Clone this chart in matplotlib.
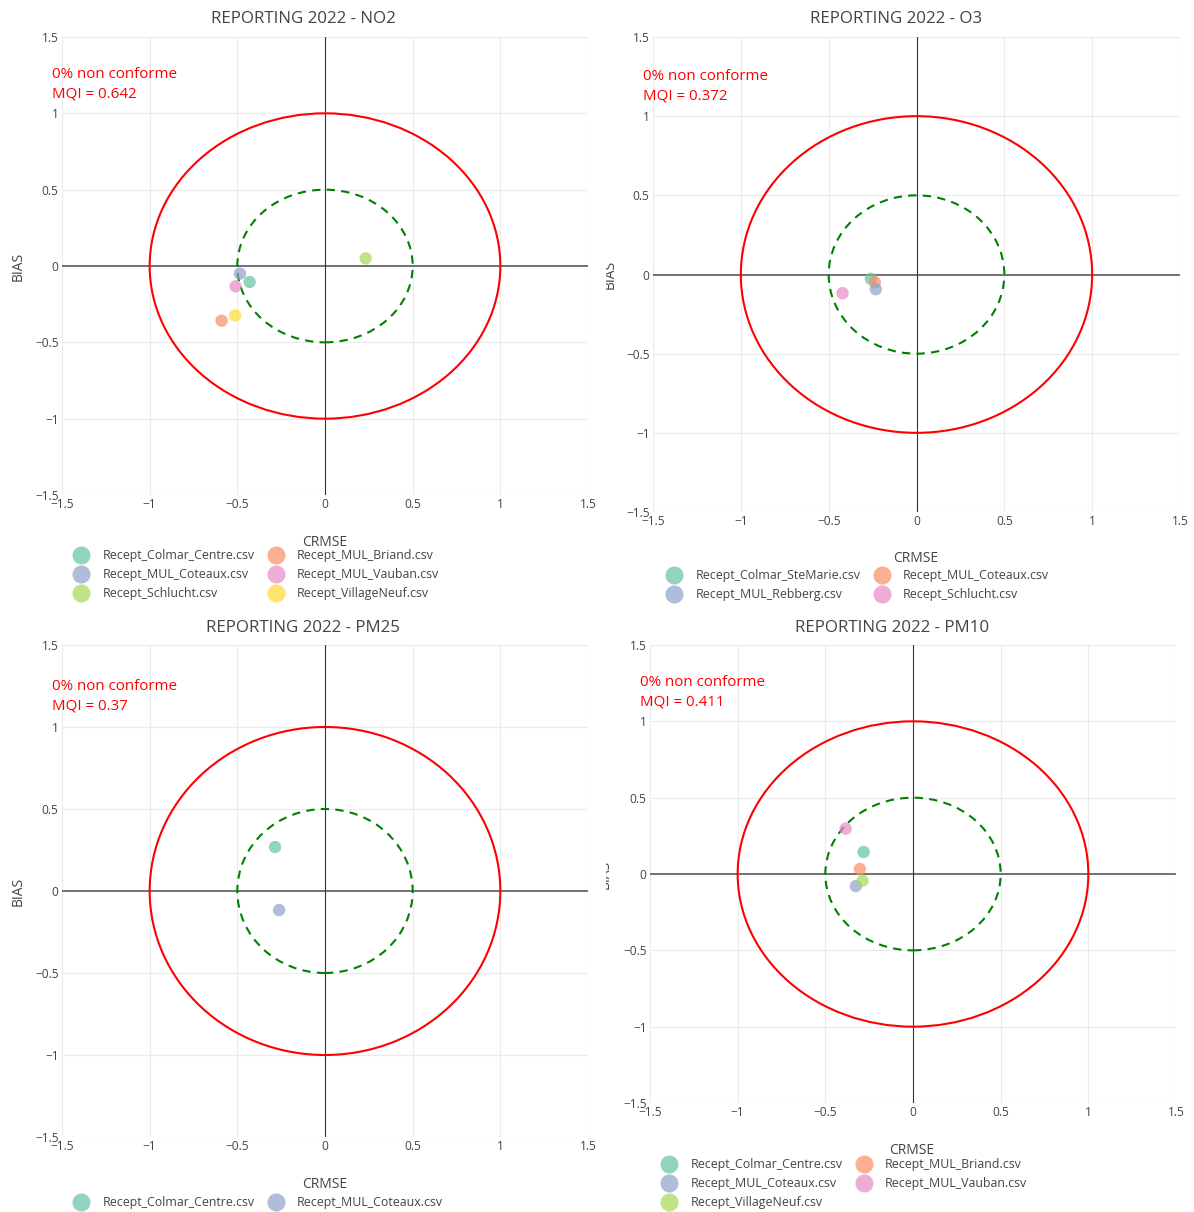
import matplotlib
matplotlib.use("Agg")
import matplotlib.pyplot as plt
from matplotlib.patches import Circle
from matplotlib.lines import Line2D
from matplotlib.transforms import Bbox, TransformedBbox

plt.rcParams["font.family"] = ["Open Sans", "DejaVu Sans"]

W, H = 1194, 1212

# Set2 palette colours
teal, orange, blue, pink, green, yellow = ("#66c2a5", "#fc8d62", "#8da0cb",
                                           "#e78ac3", "#a6d854", "#ffd92f")

# --- data ---
no2_sites = ["Recept_Colmar_Centre.csv", "Recept_MUL_Briand.csv", "Recept_MUL_Coteaux.csv",
             "Recept_MUL_Vauban.csv", "Recept_Schlucht.csv", "Recept_VillageNeuf.csv"]
no2_crmse = [-0.43, -0.59, -0.485, -0.51, 0.232, -0.513]
no2_bias = [-0.105, -0.358, -0.05, -0.133, 0.05, -0.324]
no2_colors = [teal, orange, blue, pink, green, yellow]
no2_mqi = "0.642"

o3_sites = ["Recept_Colmar_SteMarie.csv", "Recept_MUL_Coteaux.csv",
            "Recept_MUL_Rebberg.csv", "Recept_Schlucht.csv"]
o3_crmse = [-0.26, -0.237, -0.232, -0.421]
o3_bias = [-0.027, -0.049, -0.093, -0.118]
o3_colors = [teal, orange, blue, pink]
o3_mqi = "0.372"

pm25_sites = ["Recept_Colmar_Centre.csv", "Recept_MUL_Coteaux.csv"]
pm25_crmse = [-0.285, -0.262]
pm25_bias = [0.268, -0.116]
pm25_colors = [teal, blue]
pm25_mqi = "0.37"

pm10_sites = ["Recept_Colmar_Centre.csv", "Recept_MUL_Briand.csv", "Recept_MUL_Coteaux.csv",
              "Recept_MUL_Vauban.csv", "Recept_VillageNeuf.csv"]
pm10_crmse = [-0.282, -0.303, -0.326, -0.384, -0.288]
pm10_bias = [0.144, 0.033, -0.079, 0.297, -0.044]
pm10_colors = [teal, orange, blue, pink, green]
pm10_mqi = "0.411"

ticks = [-1.5, -1, -0.5, 0, 0.5, 1, 1.5]
tick_labels = ["\u22121.5", "\u22121", "\u22120.5", "0", "0.5", "1", "1.5"]

# panel layout in pixels: plot box, title centre, annotation, axis titles, legend
panels = [
    dict(name="NO2", sites=no2_sites, x=no2_crmse, y=no2_bias, c=no2_colors, mqi=no2_mqi,
         box=(62, 37, 588, 495), title=(303, 19), note=(52, 74),
         bias=(18, 266), crmse=(325, 542), leg=(72, 549)),
    dict(name="O3", sites=o3_sites, x=o3_crmse, y=o3_bias, c=o3_colors, mqi=o3_mqi,
         box=(653, 37, 1180, 512), title=(896, 19), note=(643, 76),
         bias=(610, 274), crmse=(916, 559), leg=(665, 569)),
    dict(name="PM25", sites=pm25_sites, x=pm25_crmse, y=pm25_bias, c=pm25_colors, mqi=pm25_mqi,
         box=(62, 645, 588, 1137), title=(303, 628), note=(52, 686),
         bias=(18, 891), crmse=(325, 1184), leg=(72, 1196)),
    dict(name="PM10", sites=pm10_sites, x=pm10_crmse, y=pm10_bias, c=pm10_colors, mqi=pm10_mqi,
         box=(650, 645, 1176, 1103), title=(892, 628), note=(640, 682),
         bias=(605, 874), crmse=(912, 1150), leg=(660, 1158)),
]

fig = plt.figure(figsize=(W / 100, H / 100), dpi=100)
clip = TransformedBbox(Bbox.from_extents(606 / W, 0, 1, 1), fig.transFigure)


def fx(x):
    return x / W


def fy(y):
    return 1 - y / H


for p in panels:
    x0, y0, x1, y1 = p["box"]
    ax = fig.add_axes([fx(x0), fy(y1), (x1 - x0) / W, (y1 - y0) / H])
    ax.set_xlim(-1.5, 1.5)
    ax.set_ylim(-1.5, 1.5)
    for s in ax.spines.values():
        s.set_visible(False)
    ax.set_xticks(ticks)
    ax.set_yticks(ticks)
    ax.set_xticklabels(tick_labels)
    ax.set_yticklabels(tick_labels)
    ax.tick_params(length=0, labelsize=8.6, labelcolor="#444444", pad=2.5)
    for t in ticks:
        if t != 0:
            ax.axvline(t, color="#ebebeb", lw=0.8, zorder=0)
            ax.axhline(t, color="#ebebeb", lw=0.8, zorder=0)
    ax.axhline(0, color="#666666", lw=1.3, zorder=1)
    ax.axvline(0, color="#333333", lw=0.8, zorder=1)

    ax.add_patch(Circle((0, 0), 1, fill=False, ec="red", lw=1.5, zorder=2))
    ax.add_patch(Circle((0, 0), 0.5, fill=False, ec="green", lw=1.5,
                        ls=(0, (4, 3)), zorder=2))

    handles = []
    for i, site in enumerate(p["sites"]):
        ax.scatter(p["x"][i], p["y"][i], s=80, color=p["c"][i], alpha=0.7,
                   edgecolors="none", zorder=3)
        handles.append(Line2D([], [], ls="none", marker="o", ms=13,
                              color=p["c"][i], alpha=0.7, mec="none"))

    # plotly horizontal legend fills rows; matplotlib fills columns
    order = list(range(0, len(handles), 2)) + list(range(1, len(handles), 2))
    fig.legend([handles[k] for k in order], [p["sites"][k] for k in order],
               ncol=2, loc="upper left",
               bbox_to_anchor=(fx(p["leg"][0]), fy(p["leg"][1])),
               frameon=False, fontsize=8.9, labelcolor="#444444",
               handlelength=1.5, handletextpad=0.95, columnspacing=1.0,
               labelspacing=0.5, borderpad=0, borderaxespad=0)

    fig.text(fx(p["title"][0]), fy(p["title"][1]), "REPORTING 2022 - " + p["name"],
             ha="center", va="center", fontsize=12.2, color="#444444")
    fig.text(fx(p["note"][0]), fy(p["note"][1]), "0% non conforme",
             ha="left", va="center", fontsize=10.9, color="red")
    fig.text(fx(p["note"][0]), fy(p["note"][1] + 20), "MQI = " + p["mqi"],
             ha="left", va="center", fontsize=10.9, color="red")
    fig.text(fx(p["crmse"][0]), fy(p["crmse"][1]), "CRMSE",
             ha="center", va="center", fontsize=10, color="#444444")
    bt = fig.text(fx(p["bias"][0]), fy(p["bias"][1]), "BIAS", rotation=90,
                  ha="center", va="center", fontsize=10, color="#444444")
    if p["bias"][0] > 600:
        bt.set_clip_box(clip)
        bt.set_clip_on(True)

fig.savefig("out.png", dpi=100)
